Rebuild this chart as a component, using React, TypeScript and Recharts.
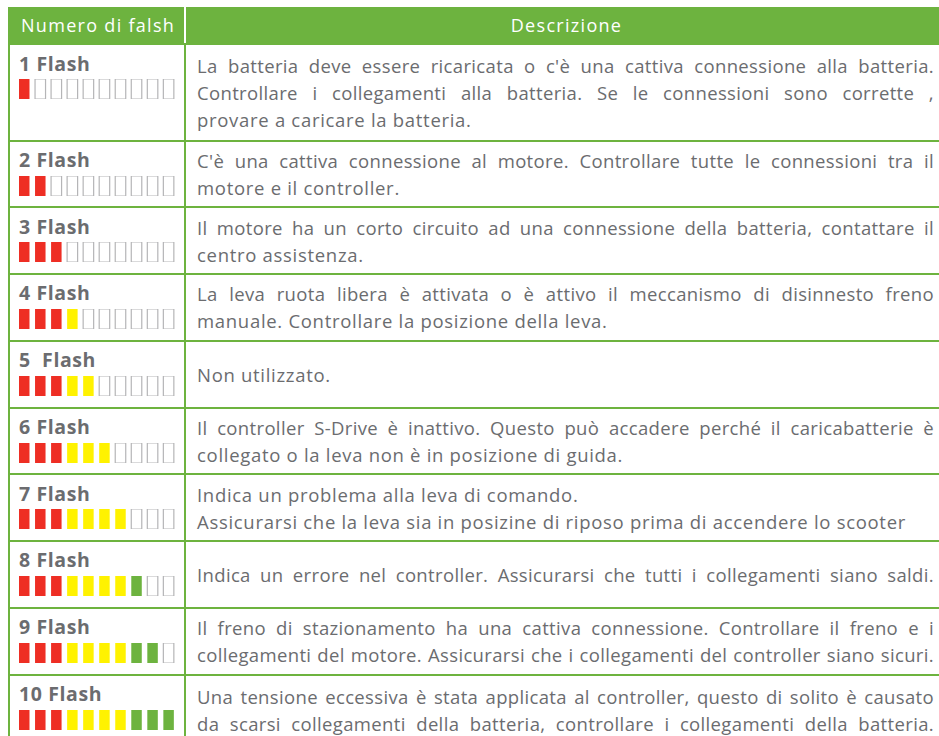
import { BarChart, Bar, Cell, XAxis, YAxis } from "recharts";

// one row per flash code
const FLASH_COUNTS = [1, 2, 3, 4, 5, 6, 7, 8, 9, 10];
const FLASH_LABELS = [
  "1 Flash",
  "2 Flash",
  "3 Flash",
  "4 Flash",
  "5  Flash",
  "6 Flash",
  "7 Flash",
  "8 Flash",
  "9 Flash",
  "10 Flash",
];
// the ten indicator segments, left to right
const SLOTS = [1, 2, 3, 4, 5, 6, 7, 8, 9, 10];
const SLOT_COLORS = [
  "#ee2e24",
  "#ee2e24",
  "#ee2e24",
  "#fff200",
  "#fff200",
  "#fff200",
  "#fff200",
  "#6db33f",
  "#6db33f",
  "#6db33f",
];

const HEADERS = ["Numero di falsh", "Descrizione"];

// [text, justified]
const DESCRIPTIONS: [string, boolean][][] = [
  [
    ["La batteria deve essere ricaricata o c'è una cattiva connessione alla batteria.", true],
    ["Controllare i collegamenti alla batteria. Se le connessioni sono corrette ,", true],
    ["provare a caricare la batteria.", false],
  ],
  [
    ["C'è una cattiva connessione al motore. Controllare tutte le connessioni tra il", true],
    ["motore e il controller.", false],
  ],
  [
    ["Il motore ha un corto circuito ad una connessione della batteria, contattare il", true],
    ["centro assistenza.", false],
  ],
  [
    ["La leva ruota libera è attivata o è attivo il meccanismo di disinnesto freno", true],
    ["manuale. Controllare la posizione della leva.", false],
  ],
  [["Non utilizzato.", false]],
  [
    ["Il controller S-Drive è inattivo. Questo può accadere perché il caricabatterie è", true],
    ["collegato o la leva non è in posizione di guida.", false],
  ],
  [
    ["Indica un problema alla leva di comando.", false],
    ["Assicurarsi che la leva sia in posizine di riposo prima di accendere lo scooter", false],
  ],
  [["Indica un errore nel controller. Assicurarsi che tutti i collegamenti siano saldi.", true]],
  [
    ["Il freno di stazionamento ha una cattiva connessione. Controllare il freno e i", true],
    ["collegamenti del motore. Assicurarsi che i collegamenti del controller siano sicuri.", true],
  ],
  [
    ["Una tensione eccessiva è stata applicata al controller, questo di solito è causato", true],
    ["da scarsi collegamenti della batteria, controllare i collegamenti della batteria.", true],
  ],
];

const GREEN = "#6db33f";
const TEXT = "#6b6c6f";
const FONT = "'Open Sans', Lato, sans-serif";
const ROW_HEIGHTS = [96.3, 66.75, 66.75, 66.75, 66.75, 66.75, 66.75, 66.75, 66.75, 70];

function FlashBar({ count }: { count: number }) {
  const data = SLOTS.map((s) => ({ slot: s, value: 1 }));
  return (
    <BarChart
      width={160.4}
      height={20}
      data={data}
      margin={{ top: 0, right: 0, bottom: 0, left: 0 }}
      barCategoryGap={0}
    >
      <XAxis dataKey="slot" hide />
      <YAxis hide domain={[0, 1]} />
      <Bar dataKey="value" barSize={10.5} isAnimationActive={false}>
        {data.map((d, i) =>
          d.slot <= count ? (
            <Cell key={i} fill={SLOT_COLORS[i]} />
          ) : (
            <Cell key={i} fill="#ffffff" stroke="#b5b5b7" strokeWidth={1.2} />
          )
        )}
      </Bar>
    </BarChart>
  );
}

export default function App() {
  return (
    <div
      style={{
        position: "fixed",
        left: 8,
        top: 7,
        width: 931,
        height: 729,
        overflow: "hidden",
        fontFamily: FONT,
        background: "#fff",
      }}
    >
      <div style={{ width: 939, display: "flex", height: 36.3, background: GREEN, color: "#fff", fontSize: 18 }}>
        <div
          style={{
            width: 178,
            flexShrink: 0,
            boxSizing: "border-box",
            borderRight: "2px solid #ffffff",
            display: "flex",
            alignItems: "center",
            paddingLeft: 13,
            letterSpacing: 1.3,
          }}
        >
          {HEADERS[0]}
        </div>
        <div style={{ flex: 1, display: "flex", alignItems: "center", justifyContent: "center", letterSpacing: 1.3 }}>
          {HEADERS[1]}
        </div>
      </div>
      {FLASH_COUNTS.map((count, r) => (
        <div
          key={r}
          style={{
            width: 939,
            height: ROW_HEIGHTS[r],
            boxSizing: "border-box",
            borderTop: `2.4px solid ${GREEN}`,
            borderLeft: `2px solid ${GREEN}`,
            display: "flex",
            color: TEXT,
          }}
        >
          <div
            style={{
              position: "relative",
              width: 176,
              flexShrink: 0,
              boxSizing: "border-box",
              borderRight: `2px solid ${GREEN}`,
            }}
          >
            <div
              style={{
                position: "absolute",
                left: 9,
                top: 7.4,
                fontWeight: 700,
                fontSize: 19.5,
                lineHeight: "22px",
                whiteSpace: "pre",
                letterSpacing: 0.6,
              }}
            >
              {FLASH_LABELS[r]}
            </div>
            <div style={{ position: "absolute", left: 6.2, top: 34 }}>
              <FlashBar count={count} />
            </div>
          </div>
          <div
            style={{
              flex: 1,
              minWidth: 0,
              display: "flex",
              flexDirection: "column",
              justifyContent: "center",
              paddingLeft: 11,
              paddingRight: 13,
              fontSize: 18.5,
              lineHeight: "27px",
            }}
          >
            {DESCRIPTIONS[r].map(([line, just], k) => (
              <div
                key={k}
                style={{
                  whiteSpace: "nowrap",
                  textAlign: just ? "justify" : "left",
                  textAlignLast: just ? "justify" : "left",
                  letterSpacing: just ? 0.35 : 0.7,
                }}
              >
                {line}
              </div>
            ))}
          </div>
        </div>
      ))}
    </div>
  );
}
